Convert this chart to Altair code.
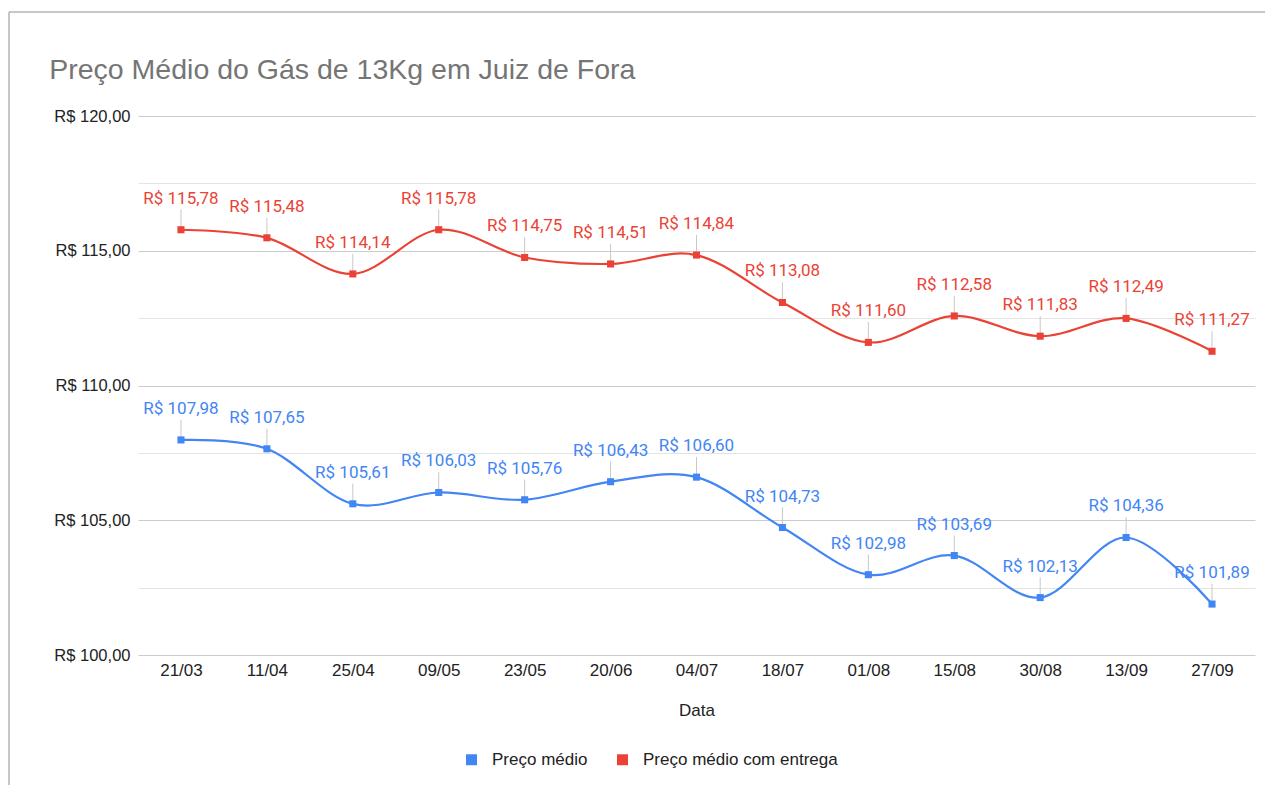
import altair as alt
import pandas as pd

datas = ["21/03", "11/04", "25/04", "09/05", "23/05", "20/06", "04/07",
         "18/07", "01/08", "15/08", "30/08", "13/09", "27/09"]
preco_medio = [107.98, 107.65, 105.61, 106.03, 105.76, 106.43, 106.60,
               104.73, 102.98, 103.69, 102.13, 104.36, 101.89]
preco_entrega = [115.78, 115.48, 114.14, 115.78, 114.75, 114.51, 114.84,
                 113.08, 111.60, 112.58, 111.83, 112.49, 111.27]
series = ["Preço médio", "Preço médio com entrega"]
colors = ["#4285F4", "#EA4335"]

rows = []
for i, d in enumerate(datas):
    rows.append({"Data": d, "serie": series[0], "valor": preco_medio[i]})
    rows.append({"Data": d, "serie": series[1], "valor": preco_entrega[i]})
df = pd.DataFrame(rows)

W, H = 1117, 539
FONT = "Liberation Sans"

xenc = alt.X("Data:O", sort=datas, scale=alt.Scale(type="point", padding=0.5),
             axis=alt.Axis(title="Data", labelAngle=0, labelFontSize=17, labelColor="#222222",
                           labelFont=FONT, ticks=False, domain=False,
                           labelPadding=7, titleFontSize=17, titleFont=FONT,
                           titleFontWeight="normal", titleColor="#222222", titlePadding=24))
yscale = alt.Scale(domain=[100, 120], nice=False, zero=False)
color = alt.Color("serie:N", sort=series, scale=alt.Scale(domain=series, range=colors),
                  legend=alt.Legend(title=None, orient="none", direction="horizontal",
                                    legendX=325, legendY=635, symbolType="square",
                                    symbolSize=120, labelFontSize=17, labelFont=FONT,
                                    labelColor="#222222", columnPadding=26, symbolOpacity=1,
                                    symbolStrokeWidth=0, labelOffset=12, labelLimit=400))

base = alt.Chart(df).encode(x=xenc)

grid = base.mark_line(opacity=0).encode(
    y=alt.Y("valor:Q", scale=yscale,
            axis=alt.Axis(title=None, values=[100, 102.5, 105, 107.5, 110, 112.5, 115, 117.5, 120],
                          labelExpr="datum.value % 5 === 0 ? 'R$ ' + replace(format(datum.value, '.2f'), '.', ',') : ''",
                          labelFontSize=16.5, labelFont=FONT, labelColor="#222222",
                          ticks=False, domain=False, labelPadding=8,
                          gridColor={"condition": {"test": "datum.value % 5 === 0", "value": "#cccccc"},
                                     "value": "#e4e4e4"},
                          gridWidth=1.2)),
    detail="serie:N",
)

line = base.mark_line(interpolate="cardinal", strokeWidth=2.2).encode(
    y=alt.Y("valor:Q", scale=yscale), color=color)

leader = base.transform_calculate(topo="datum.valor + 0.75").mark_rule(
    color="#c8c8c8", strokeWidth=1).encode(
    y=alt.Y("valor:Q", scale=yscale), y2="topo:Q")

pts = base.mark_square(size=50, opacity=1).encode(
    y=alt.Y("valor:Q", scale=yscale),
    color=alt.Color("serie:N", scale=alt.Scale(domain=series, range=colors), legend=None))

labels = base.transform_calculate(
    rotulo="'R$ ' + replace(format(datum.valor, '.2f'), '.', ',')"
).mark_text(dy=-31, fontSize=17, font="Roboto", baseline="middle").encode(
    y=alt.Y("valor:Q", scale=yscale), text="rotulo:N",
    color=alt.Color("serie:N", scale=alt.Scale(domain=series, range=colors), legend=None))

frame_df = pd.DataFrame({"k": [0]})
frame_top = alt.Chart(frame_df).mark_rule(color="#b5b5b5", strokeWidth=1.5).encode(
    x=alt.value(-129), x2=alt.value(W + 20), y=alt.value(-104))
frame_left = alt.Chart(frame_df).mark_rule(color="#b5b5b5", strokeWidth=1.5).encode(
    x=alt.value(-129), y=alt.value(-104), y2=alt.value(H + 150))

chart = alt.layer(grid, frame_top, frame_left, line, leader, pts, labels).properties(
    width=W, height=H,
    title=alt.TitleParams("Preço Médio do Gás de 13Kg em Juiz de Fora", anchor="start",
                          font=FONT, fontSize=28.5, fontWeight="normal",
                          color="#757575", dx=41, offset=-73),
    autosize=alt.AutoSizeParams(type="none"),
    padding={"left": 130, "top": 108, "right": 10, "bottom": 130},
).configure_view(stroke=None).resolve_scale(color="shared")

chart.save("out.html", embed_options={"renderer": "svg", "actions": False})
